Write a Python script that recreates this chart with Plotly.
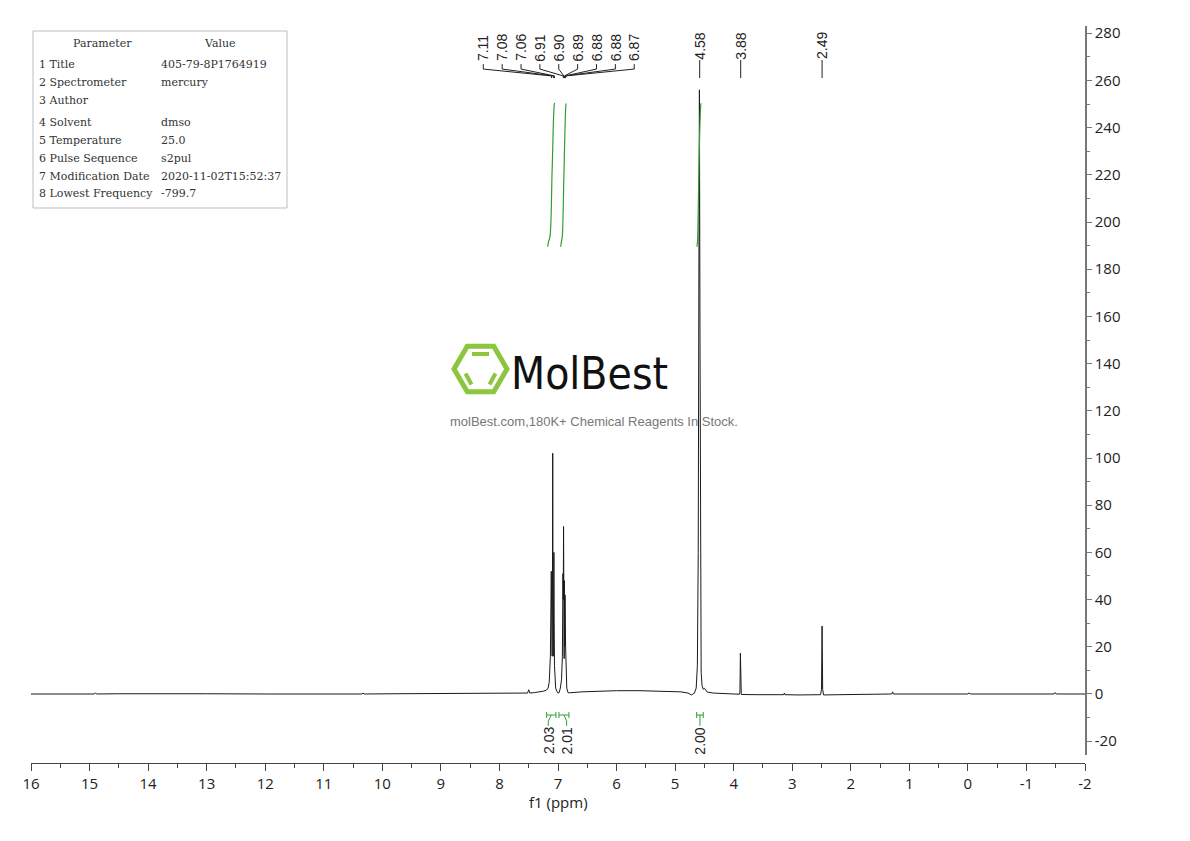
import plotly.graph_objects as go

# ---------------- data ----------------
# spectrum trace (ppm, intensity)
spec_ppm = [16.0, 15.5, 14.92, 14.90, 14.88, 14.5, 14.0, 13.0, 12.0, 11.0, 10.35, 10.33, 10.31, 9.8, 9.0, 8.5,
            8.0, 7.7, 7.6, 7.52, 7.50, 7.48, 7.40, 7.30, 7.25, 7.20, 7.17, 7.15, 7.13, 7.115, 7.11, 7.10,
            7.095, 7.09, 7.085, 7.08, 7.075, 7.07, 7.065, 7.06, 7.05, 7.04, 7.02, 7.00, 6.98, 6.96, 6.94,
            6.925, 6.915, 6.91, 6.905, 6.90, 6.895, 6.89, 6.885, 6.88, 6.875, 6.87, 6.86, 6.85, 6.83, 6.80,
            6.6, 6.3, 6.0, 5.6, 5.2, 4.9, 4.78, 4.72, 4.67, 4.64, 4.62, 4.605, 4.595, 4.585, 4.575, 4.565,
            4.555, 4.54, 4.52, 4.50, 4.48, 4.45, 4.35, 4.2, 4.0, 3.90, 3.893, 3.885, 3.877, 3.87, 3.6, 3.3,
            3.145, 3.135, 3.125, 2.9, 2.6, 2.515, 2.50, 2.49, 2.48, 2.465, 2.2, 1.8, 1.30, 1.286, 1.27, 0.8,
            0.3, 0.0, -0.02, -0.04, -0.6, -1.2, -1.47, -1.49, -1.51, -2.0]
spec_int = [0.0, 0.1, 0.0, 0.5, 0.0, 0.1, 0.0, 0.1, 0.0, 0.1, 0.0, 0.4, 0.0, 0.1, 0.2, 0.1,
            0.2, 0.3, 0.5, 0.4, 1.8, 0.4, 0.6, 0.9, 1.2, 1.6, 2.5, 5.0, 16, 52, 30, 16,
            45, 102, 40, 16, 35, 60, 30, 12, 6, 2.5, 1.2, 0.4, 0.6, 2.5, 6,
            16, 51, 40, 71, 30, 15, 48, 20, 42, 30, 20, 7, 2.5, 0.6, 0.5,
            0.9, 1.2, 1.4, 1.4, 1.2, 0.9, 0.4, -0.4, 0.4, 2.5, 12, 60, 170, 256, 150, 40,
            9, 3.5, 2.0, 2.4, 1.6, 0.8, 0.4, 0.1, 0.0, -0.1, 0.8, 17.3, 0.8, -0.2, -0.3, -0.3,
            -0.3, 0.4, -0.3, -0.4, -0.4, -0.3, 2.0, 28.8, 2.0, -0.4, -0.3, -0.2, 0.0, 0.9, 0.0, 0.0,
            0.0, 0.0, 0.5, 0.0, 0.0, 0.0, 0.0, 0.6, 0.0, 0.0]

# integral curves
int1_ppm = [7.177, 7.160, 7.137, 7.100, 7.064, 7.056]
int1_val = [189.5, 191.8, 193.8, 222.0, 249.6, 250.4]
int2_ppm = [6.955, 6.940, 6.927, 6.898, 6.869, 6.862]
int2_val = [189.5, 191.8, 193.8, 221.0, 248.4, 250.2]
int3_ppm = [4.627, 4.618, 4.605, 4.585, 4.566, 4.559]
int3_val = [189.5, 191.5, 205.0, 233.0, 248.0, 250.3]

# integration ranges and values
integ_start = [7.194, 6.984, 4.632]
integ_end = [7.035, 6.813, 4.520]
integ_label_ppm = [7.166, 6.852, 4.576]
integ_values = ["2.03", "2.01", "2.00"]

# peak labels
cluster_peaks = [7.11, 7.08, 7.06, 6.91, 6.90, 6.89, 6.88, 6.88, 6.87]
cluster_labels = ["7.11", "7.08", "7.06", "6.91", "6.90", "6.89", "6.88", "6.88", "6.87"]
single_peaks = [4.58, 3.88, 2.49]
single_labels = ["4.58", "3.88", "2.49"]

# axes
x_ticks = [16, 15, 14, 13, 12, 11, 10, 9, 8, 7, 6, 5, 4, 3, 2, 1, 0, -1, -2]
x_ticktext = ["16", "15", "14", "13", "12", "11", "10", "9", "8", "7", "6", "5", "4", "3", "2", "1", "0", "-1", "-2"]
y_ticks = [-20, 0, 20, 40, 60, 80, 100, 120, 140, 160, 180, 200, 220, 240, 260, 280]
y_ticktext = ["-20", "0", "20", "40", "60", "80", "100", "120", "140", "160", "180", "200", "220", "240", "260", "280"]

# parameter table
param_names = ["1 Title", "2 Spectrometer", "3 Author", "4 Solvent", "5 Temperature",
               "6 Pulse Sequence", "7 Modification Date", "8 Lowest Frequency"]
param_values = ["405-79-8P1764919", "mercury", "", "dmso", "25.0", "s2pul",
                "2020-11-02T15:52:37", "-799.7"]

# ---------------- layout geometry ----------------
W, H = 1190, 841
OFF = 8  # page body margin
L, R, T, B = 23, 113, 18, 86
PW, PH = W - L - R, H - T - B
GREEN = "#2f9e3a"
LOGO_GREEN = "#8cc63f"


def px(x):
    """page pixel x -> paper"""
    return (x - OFF - L) / PW


def py(y):
    """page pixel y -> paper"""
    return (H - B - (y - OFF)) / PH


fig = go.Figure()

fig.add_trace(go.Scatter(x=spec_ppm, y=spec_int, mode="lines",
                         line=dict(color="#1a1a1a", width=1), hoverinfo="skip", showlegend=False))
for xs, ys in [(int1_ppm, int1_val), (int2_ppm, int2_val), (int3_ppm, int3_val)]:
    fig.add_trace(go.Scatter(x=xs, y=ys, mode="lines", line=dict(color=GREEN, width=1.2, shape="spline"),
                             hoverinfo="skip", showlegend=False))

shapes = []
annotations = []
lab_font = dict(family="Liberation Sans, Arial", size=14, color="#222")

# peak label cluster
n = len(cluster_labels)
spacing = 18.87 / 58.56
center = 6.987
ya, yb, yc, yd = 266.9, 264.8, 261.9, 261.0
for i, (pk, lab) in enumerate(zip(cluster_peaks, cluster_labels)):
    lx = center + ((n - 1) / 2 - i) * spacing
    annotations.append(dict(x=lx, y=273.8, xref="x", yref="y", text=lab, textangle=-90,
                            showarrow=False, xanchor="center", yanchor="middle", font=lab_font))
    shapes.append(dict(type="path", xref="x", yref="y",
                       path=f"M {lx},{ya} L {lx},{yb} L {pk},{yc} L {pk},{yd}",
                       line=dict(color="#222", width=1)))
for pk, lab in zip(single_peaks, single_labels):
    annotations.append(dict(x=pk, y=274.6, xref="x", yref="y", text=lab, textangle=-90,
                            showarrow=False, xanchor="center", yanchor="middle", font=lab_font))
    shapes.append(dict(type="line", xref="x", yref="y", x0=pk, x1=pk, y0=268.6, y1=261.0,
                       line=dict(color="#222", width=1)))

# integration brackets
yb0 = -8.9
for s, e, lx, val in zip(integ_start, integ_end, integ_label_ppm, integ_values):
    c = (s + e) / 2
    shapes.append(dict(type="path", xref="x", yref="y",
                       path=f"M {s},{yb0 + 1.3} L {s},{yb0 - 1.3} M {s},{yb0} L {e},{yb0} "
                            f"M {e},{yb0 + 1.3} L {e},{yb0 - 1.3} "
                            f"M {c},{yb0} L {lx},{yb0 - 2.6} L {lx},{yb0 - 4.6}",
                       line=dict(color=GREEN, width=1)))
    annotations.append(dict(x=lx, y=-19.8, xref="x", yref="y", text=val, textangle=-90,
                            showarrow=False, xanchor="center", yanchor="middle", font=lab_font))

# parameter table
shapes.append(dict(type="rect", xref="paper", yref="paper", x0=px(33), x1=px(287), y0=py(208), y1=py(31),
                   line=dict(color="#bdbdbd", width=1), fillcolor="white", layer="above"))
tfont = dict(family="DejaVu Serif, Liberation Serif", size=11, color="#333")
annotations.append(dict(x=px(102), y=py(43), xref="paper", yref="paper", text="Parameter", showarrow=False,
                        xanchor="center", yanchor="middle", font=tfont))
annotations.append(dict(x=px(220), y=py(43), xref="paper", yref="paper", text="Value", showarrow=False,
                        xanchor="center", yanchor="middle", font=tfont))
row_y = [65, 83, 101, 123, 141, 159, 177, 194]
for ry, nm, vl in zip(row_y, param_names, param_values):
    annotations.append(dict(x=px(37), y=py(ry), xref="paper", yref="paper", text=nm, showarrow=False,
                            xanchor="left", yanchor="middle", font=tfont))
    if vl:
        annotations.append(dict(x=px(159), y=py(ry), xref="paper", yref="paper", text=vl, showarrow=False,
                                xanchor="left", yanchor="middle", font=tfont))

# watermark logo: hexagon
cx, cy, rx = 480.5, 369.0, 26.5
ry_ = 22.8
hexpts = [(cx + rx, cy), (cx + rx / 2, cy - ry_), (cx - rx / 2, cy - ry_), (cx - rx, cy),
          (cx - rx / 2, cy + ry_), (cx + rx / 2, cy + ry_)]
path = "M " + " L ".join(f"{px(a)},{py(b)}" for a, b in hexpts) + " Z"
shapes.append(dict(type="path", xref="paper", yref="paper", path=path, layer="below",
                   line=dict(color=LOGO_GREEN, width=5)))
for (a0, b0, a1, b1) in [(472, 354, 489, 354), (465.5, 373.5, 471.5, 384.5), (495.5, 373.5, 489.5, 384.5)]:
    shapes.append(dict(type="line", xref="paper", yref="paper", x0=px(a0), y0=py(b0), x1=px(a1), y1=py(b1),
                       layer="below", line=dict(color=LOGO_GREEN, width=4)))
annotations.append(dict(x=px(509), y=py(373), xref="paper", yref="paper", text="MolBest", showarrow=False,
                        xanchor="left", yanchor="middle",
                        font=dict(family="DejaVu Sans Condensed, DejaVu Sans", size=44,
                                  color="#111")))
annotations.append(dict(x=px(594), y=py(421), xref="paper", yref="paper",
                        text="molBest.com,180K+ Chemical Reagents In Stock.", showarrow=False,
                        xanchor="center", yanchor="middle",
                        font=dict(family="Liberation Sans, Arial", size=13, color="#777")))
# x-axis title
annotations.append(dict(x=px(558), y=py(802), xref="paper", yref="paper", text="f1 (ppm)", showarrow=False,
                        xanchor="center", yanchor="middle",
                        font=dict(family="Open Sans, Noto Sans", size=15, color="#222")))

ydom0 = 8 / PH  # y-axis line stops slightly above the x-axis line
fig.update_layout(
    width=W, height=H,
    margin=dict(l=L, r=R, t=T, b=B, pad=0),
    paper_bgcolor="white", plot_bgcolor="white",
    shapes=shapes, annotations=annotations,
    xaxis=dict(range=[16, -2], tickvals=x_ticks, ticktext=x_ticktext, showgrid=False, zeroline=False,
               showline=True, linecolor="#444", linewidth=1, ticks="outside", ticklen=7, tickcolor="#444",
               minor=dict(dtick=0.5, ticks="outside", ticklen=4, tickcolor="#444", showgrid=False),
               tickfont=dict(family="Open Sans, Noto Sans", size=15, color="#222"),
               anchor="free", position=0),
    yaxis=dict(range=[-25.85, 283.05], domain=[ydom0, 1], side="right", tickvals=y_ticks, ticktext=y_ticktext,
               showgrid=False, zeroline=False, showline=True, linecolor="#777", linewidth=1.5,
               ticks="outside", ticklen=5, tickcolor="#777",
               minor=dict(dtick=10, ticks="outside", ticklen=3, tickcolor="#777", showgrid=False),
               tickfont=dict(family="Open Sans, Noto Sans", size=15, color="#222")),
)

fig.write_html("out.html")
